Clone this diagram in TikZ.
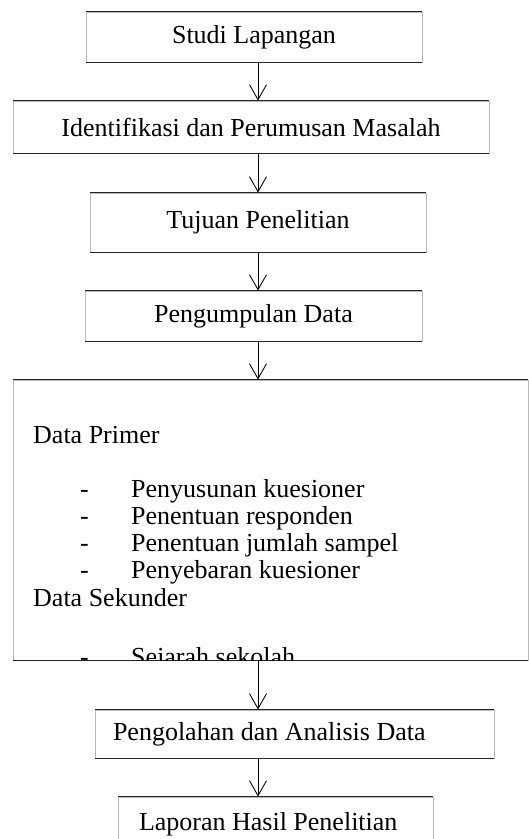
\documentclass[tikz,border=0pt]{standalone}
\usepackage{fontspec}
\setmainfont{Liberation Serif}
\usetikzlibrary{arrows.meta}
\tikzset{
  px/.style={x=1pt,y=-1pt},
  stepbox/.style={draw=gray!55, line width=0.8pt, inner sep=0pt, font=\fontsize{26}{30}\selectfont},
  flow/.style={line width=0.9pt, -{Straight Barb[length=15pt,width=17pt,line width=0.9pt]}},
  edge/.style={line width=0.9pt, black!85},
  body/.style={anchor=base west, inner sep=0pt, font=\fontsize{26}{30}\selectfont},
}
\newcommand{\hedges}[1]{\draw[edge] (#1.north west) -- (#1.north east) (#1.south west) -- (#1.south east);}
\begin{document}
\begin{tikzpicture}[px]
\useasboundingbox (0,0) rectangle (529,839);
\coordinate (ax) at (258,0);
% process boxes
\node[stepbox, minimum width=336pt, minimum height=50pt] (b1) at (254,37) {Studi Lapangan};
\node[stepbox, minimum width=476pt, minimum height=52pt] (b2) at (251,127) {Identifikasi dan Perumusan Masalah};
\node[stepbox, minimum width=336pt, minimum height=59pt] (b3) at (258,222.5) {Tujuan Penelitian};
\node[stepbox, minimum width=337pt, minimum height=50pt] (b4) at (253.5,316) {Pengumpulan Data};
\node[stepbox, minimum width=515pt, minimum height=280pt] (b5) at (270.5,520) {};
\node[stepbox, minimum width=399pt, minimum height=48pt] (b6) at (294.5,734) {\makebox[399pt][l]{\hspace*{18pt}Pengolahan dan Analisis Data}};
\node[stepbox, minimum width=315pt, minimum height=54pt] (b7) at (275.5,824) {\makebox[315pt][l]{\hspace*{21pt}Laporan Hasil Penelitian}};
\foreach \n in {b1,b2,b3,b4,b5,b6,b7} {\hedges{\n}}
% data collection contents, cut off at the frame
\begin{scope}
\clip (b5.north west) rectangle (b5.south east);
\node[body] (dp) at (33,443) {Data Primer};
\foreach \t [count=\i] in {Penyusunan kuesioner, Penentuan responden, Penentuan jumlah sampel, Penyebaran kuesioner} {
  \node[body] (d\i) at (80,470+27*\i) {-};
  \node[body] (p\i) at (131,470+27*\i) {\t};
}
\node[body] (ds) at (33,606) {Data Sekunder};
\node[body] (d5) at (80,665) {-};
\node[body] (s1) at (131,665) {Sejarah sekolah};
\end{scope}
% connectors
\draw[flow] (b1.south -| ax) -- (b2.north -| ax);
\draw[flow] (b2.south -| ax) -- (b3.north -| ax);
\draw[flow] (b3.south -| ax) -- (b4.north -| ax);
\draw[flow] (b4.south -| ax) -- (b5.north -| ax);
\draw[flow] (b5.south -| ax) -- (b6.north -| ax);
\draw[flow] (b6.south -| ax) -- (b7.north -| ax);
\end{tikzpicture}
\end{document}
